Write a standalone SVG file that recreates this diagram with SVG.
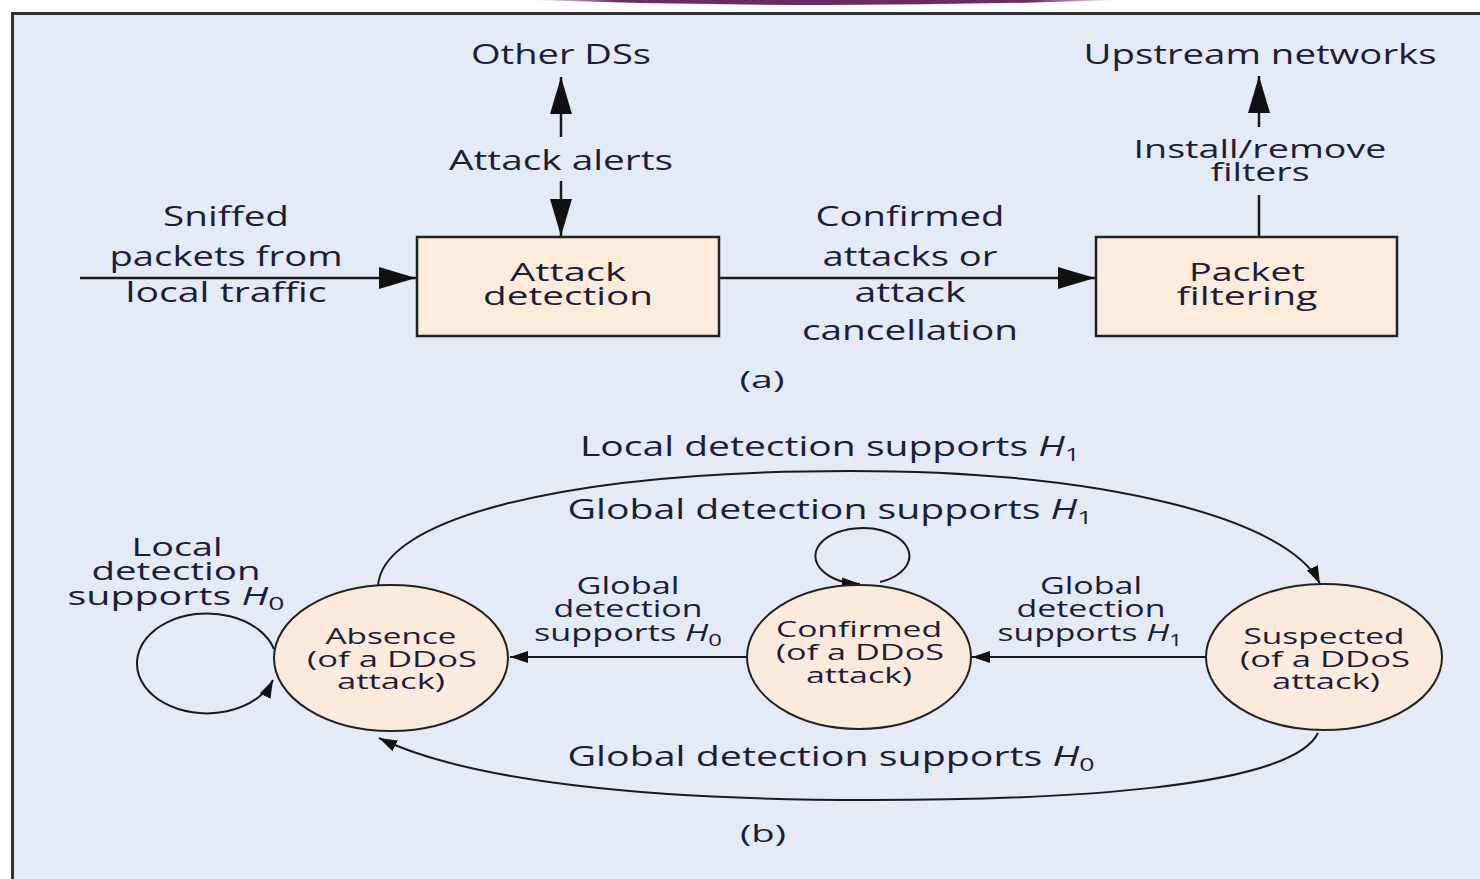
<svg xmlns="http://www.w3.org/2000/svg" width="1480" height="879" viewBox="0 0 1480 879">
<defs>
<linearGradient id="pg" x1="0" y1="0" x2="1" y2="0">
<stop offset="0" stop-color="#6a2b63" stop-opacity="0"/>
<stop offset="0.15" stop-color="#6a2b63"/>
<stop offset="0.85" stop-color="#6a2b63"/>
<stop offset="1" stop-color="#6a2b63" stop-opacity="0"/>
</linearGradient>
<marker id="big" markerUnits="userSpaceOnUse" markerWidth="38" markerHeight="24" refX="37" refY="12" orient="auto">
<path d="M0,1 L37,12 L0,23 z" fill="#111"/>
</marker>
<marker id="sm" markerUnits="userSpaceOnUse" markerWidth="20" markerHeight="14" refX="18" refY="7" orient="auto">
<path d="M0,1 L18,7 L0,13 z" fill="#111"/>
</marker>
<style>
text{font-family:"Open Sans","Noto Sans","Liberation Sans",sans-serif;font-weight:500;fill:#1d1d38;text-anchor:middle}
.l{font-size:28px}
.t{font-size:25px}
.m{font-size:23px}
.s{font-size:22px}
.box{fill:#fdebdc;stroke:#222;stroke-width:2.5}
.st{fill:#fcebdd;stroke:#222;stroke-width:2}
.ln{fill:none;stroke:#1a1a1a;stroke-width:2.5}
.cv{fill:none;stroke:#1a1a1a;stroke-width:2}
.it{font-style:italic}
</style>
</defs>
<rect width="1480" height="879" fill="#ffffff"/>
<path d="M530,0 L1120,0 Q825,10 530,0 Z" fill="url(#pg)"/>
<rect x="12.5" y="13.5" width="1500" height="900" fill="#e4eaf6" stroke="#333" stroke-width="3"/>

<g id="connectors">
<line class="ln" x1="561" y1="137" x2="561" y2="77" marker-end="url(#big)"/>
<line class="ln" x1="561" y1="181" x2="561" y2="236" marker-end="url(#big)"/>
<line class="ln" x1="1259" y1="127" x2="1259" y2="76" marker-end="url(#big)"/>
<line class="ln" x1="1259" y1="195" x2="1259" y2="237"/>
<line class="ln" x1="80" y1="278" x2="416" y2="278" marker-end="url(#big)"/>
<line class="ln" x1="719" y1="278" x2="1095" y2="278" marker-end="url(#big)"/>
<path class="cv" d="M378,588 C378,520 560,471 850,471 C1110,471 1290,520 1320,584" marker-end="url(#sm)"/>
<path class="cv" d="M1318,733 C1290,790 1050,800 870,800 C650,800 470,782 379,738" marker-end="url(#sm)"/>
<path class="cv" d="M274,649 A70,50 0 1 0 273,680" marker-end="url(#sm)"/>
<path class="cv" d="M880,582 A47,28 0 1 0 860,584" marker-end="url(#sm)"/>
<line class="cv" x1="747" y1="657" x2="510" y2="657" marker-end="url(#sm)"/>
<line class="cv" x1="1206" y1="657" x2="972" y2="657" marker-end="url(#sm)"/>
</g>

<g id="other-ds"><text class="l" x="561" y="64" textLength="180" lengthAdjust="spacingAndGlyphs">Other DSs</text></g>
<g id="attack-alerts"><text class="l" x="561" y="170" textLength="224" lengthAdjust="spacingAndGlyphs">Attack alerts</text></g>
<g id="upstream"><text class="l" x="1260" y="64" textLength="353" lengthAdjust="spacingAndGlyphs">Upstream networks</text></g>
<g id="install-label">
<text class="t" x="1260" y="158" textLength="253" lengthAdjust="spacingAndGlyphs">Install/remove</text>
<text class="t" x="1260" y="181" textLength="99" lengthAdjust="spacingAndGlyphs">filters</text>
</g>
<g id="sniffed-label">
<text class="l" x="226" y="226" textLength="126" lengthAdjust="spacingAndGlyphs">Sniffed</text>
<text class="l" x="226" y="266" textLength="233" lengthAdjust="spacingAndGlyphs">packets from</text>
<text class="l" x="226" y="302" textLength="201" lengthAdjust="spacingAndGlyphs">local traffic</text>
</g>
<g id="attack-detection">
<rect class="box" x="417" y="237" width="302" height="99"/>
<text class="t" x="568" y="281" textLength="116" lengthAdjust="spacingAndGlyphs">Attack</text>
<text class="t" x="568" y="305" textLength="170" lengthAdjust="spacingAndGlyphs">detection</text>
</g>
<g id="confirmed-label">
<text class="l" x="910" y="226" textLength="189" lengthAdjust="spacingAndGlyphs">Confirmed</text>
<text class="l" x="910" y="266" textLength="175" lengthAdjust="spacingAndGlyphs">attacks or</text>
<text class="l" x="910" y="302" textLength="111" lengthAdjust="spacingAndGlyphs">attack</text>
<text class="l" x="910" y="340" textLength="216" lengthAdjust="spacingAndGlyphs">cancellation</text>
</g>
<g id="packet-filtering">
<rect class="box" x="1096" y="237" width="301" height="99"/>
<text class="t" x="1247" y="281" textLength="116" lengthAdjust="spacingAndGlyphs">Packet</text>
<text class="t" x="1247" y="305" textLength="141" lengthAdjust="spacingAndGlyphs">filtering</text>
</g>
<g id="caption-a"><text class="m" x="762" y="388" textLength="45" lengthAdjust="spacingAndGlyphs">(a)</text></g>

<g id="local-h1"><text class="l" x="830" y="456" textLength="500" lengthAdjust="spacingAndGlyphs">Local detection supports <tspan class="it">H</tspan><tspan font-size="19" dy="5">1</tspan></text></g>
<g id="global-h1-top"><text class="l" x="830" y="519" textLength="525" lengthAdjust="spacingAndGlyphs">Global detection supports <tspan class="it">H</tspan><tspan font-size="19" dy="5">1</tspan></text></g>
<g id="local-h0">
<text class="t" x="177" y="556" textLength="91" lengthAdjust="spacingAndGlyphs">Local</text>
<text class="t" x="176" y="580" textLength="169" lengthAdjust="spacingAndGlyphs">detection</text>
<text class="t" x="176" y="605" textLength="217" lengthAdjust="spacingAndGlyphs">supports <tspan class="it">H</tspan><tspan font-size="18" dy="5">0</tspan></text>
</g>
<g id="absence">
<ellipse class="st" cx="391" cy="658" rx="117" ry="73"/>
<text class="s" x="391" y="644" textLength="131" lengthAdjust="spacingAndGlyphs">Absence</text>
<text class="s" x="392" y="667" textLength="170" lengthAdjust="spacingAndGlyphs">(of a DDoS</text>
<text class="s" x="391" y="689" textLength="108" lengthAdjust="spacingAndGlyphs">attack)</text>
</g>
<g id="global-h0-mid">
<text class="m" x="628" y="594" textLength="103" lengthAdjust="spacingAndGlyphs">Global</text>
<text class="m" x="628" y="617" textLength="149" lengthAdjust="spacingAndGlyphs">detection</text>
<text class="m" x="628" y="641" textLength="188" lengthAdjust="spacingAndGlyphs">supports <tspan class="it">H</tspan><tspan font-size="16" dy="5">0</tspan></text>
</g>
<g id="confirmed">
<ellipse class="st" cx="859" cy="657" rx="112" ry="72"/>
<text class="s" x="859" y="637" textLength="166" lengthAdjust="spacingAndGlyphs">Confirmed</text>
<text class="s" x="860" y="660" textLength="168" lengthAdjust="spacingAndGlyphs">(of a DDoS</text>
<text class="s" x="859" y="683" textLength="106" lengthAdjust="spacingAndGlyphs">attack)</text>
</g>
<g id="global-h1-mid">
<text class="m" x="1091" y="594" textLength="102" lengthAdjust="spacingAndGlyphs">Global</text>
<text class="m" x="1091" y="617" textLength="149" lengthAdjust="spacingAndGlyphs">detection</text>
<text class="m" x="1090" y="641" textLength="185" lengthAdjust="spacingAndGlyphs">supports <tspan class="it">H</tspan><tspan font-size="16" dy="5">1</tspan></text>
</g>
<g id="suspected">
<ellipse class="st" cx="1324" cy="657" rx="118" ry="73"/>
<text class="s" x="1324" y="644" textLength="161" lengthAdjust="spacingAndGlyphs">Suspected</text>
<text class="s" x="1325" y="667" textLength="170" lengthAdjust="spacingAndGlyphs">(of a DDoS</text>
<text class="s" x="1326" y="689" textLength="108" lengthAdjust="spacingAndGlyphs">attack)</text>
</g>
<g id="global-h0-bottom"><text class="l" x="831" y="766" textLength="527" lengthAdjust="spacingAndGlyphs">Global detection supports <tspan class="it">H</tspan><tspan font-size="19" dy="5">0</tspan></text></g>
<g id="caption-b"><text class="m" x="763" y="842" textLength="46" lengthAdjust="spacingAndGlyphs">(b)</text></g>
</svg>
